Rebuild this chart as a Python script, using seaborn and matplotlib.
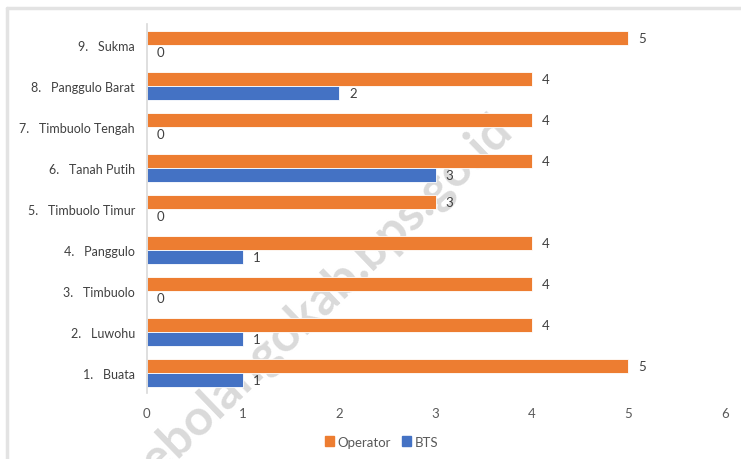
import pandas as pd
import seaborn as sns
import matplotlib.pyplot as plt
from matplotlib.lines import Line2D

# data (top to bottom)
desa = ["9.   Sukma", "8.   Panggulo Barat", "7.   Timbuolo Tengah", "6.   Tanah Putih",
        "5.   Timbuolo Timur", "4.   Panggulo", "3.   Timbuolo", "2.   Luwohu", "1.   Buata"]
operator = [5, 4, 4, 4, 3, 4, 4, 4, 5]
bts = [0, 2, 0, 3, 0, 1, 0, 1, 1]
series = ["Operator", "BTS"]
colors = ["#ED7D31", "#4472C4"]

df = pd.DataFrame({
    "Desa": desa * 2,
    "Jumlah": operator + bts,
    "Seri": ["Operator"] * len(desa) + ["BTS"] * len(desa),
})

sns.set_style("white")
plt.rcParams["font.family"] = ["Lato", "DejaVu Sans"]

fig = plt.figure(figsize=(7.41, 4.60), dpi=100)
ax = fig.add_axes([0.198, 0.1424, 0.780, 0.8022])
ax.set_zorder(1)
ax.patch.set_alpha(0)

sns.barplot(data=df, y="Desa", x="Jumlah", hue="Seri", order=desa, hue_order=series,
            palette=colors, orient="h", width=0.68, saturation=1, errorbar=None,
            edgecolor="white", linewidth=0.6, legend=False, ax=ax)

for cont in ax.containers:
    ax.bar_label(cont, padding=7, fontsize=9.5, color="#404040")

ax.set_xlim(0, 6)
ax.set_xticks(range(0, 7))
ax.set_xlabel("")
ax.set_ylabel("")
ax.tick_params(axis="x", length=0, pad=10, labelsize=9.5, labelcolor="#595959")
ax.tick_params(axis="y", length=0, pad=8.5, labelsize=9, labelcolor="#404040")
for s in ["top", "right", "bottom"]:
    ax.spines[s].set_visible(False)
ax.spines["left"].set_color("#d9d9d9")
ax.spines["left"].set_linewidth(1.2)

handles = [plt.Rectangle((0, 0), 1, 1, color=c) for c in colors]
fig.legend(handles, series, loc="center", bbox_to_anchor=(0.515, 0.038), ncol=2,
           frameon=False, fontsize=9.5, handlelength=0.7, handleheight=0.7,
           handletextpad=0.3, columnspacing=0.8, labelcolor="#595959")

# chart frame remnants (top and left)
fig.add_artist(Line2D([0.009, 1.0], [0.980, 0.980], color="#e3e3e3", lw=2.5))
fig.add_artist(Line2D([0.009, 0.009], [0.0, 0.980], color="#e3e3e3", lw=2.5))

# watermark, behind the bars
fig.text(0.693, 0.712, "bonebolangokab.bps.go.id", rotation=44, rotation_mode="anchor",
         ha="right", va="baseline", fontsize=36, fontweight="bold", color="#dadada",
         zorder=0)

fig.savefig("out.png", dpi=100)
